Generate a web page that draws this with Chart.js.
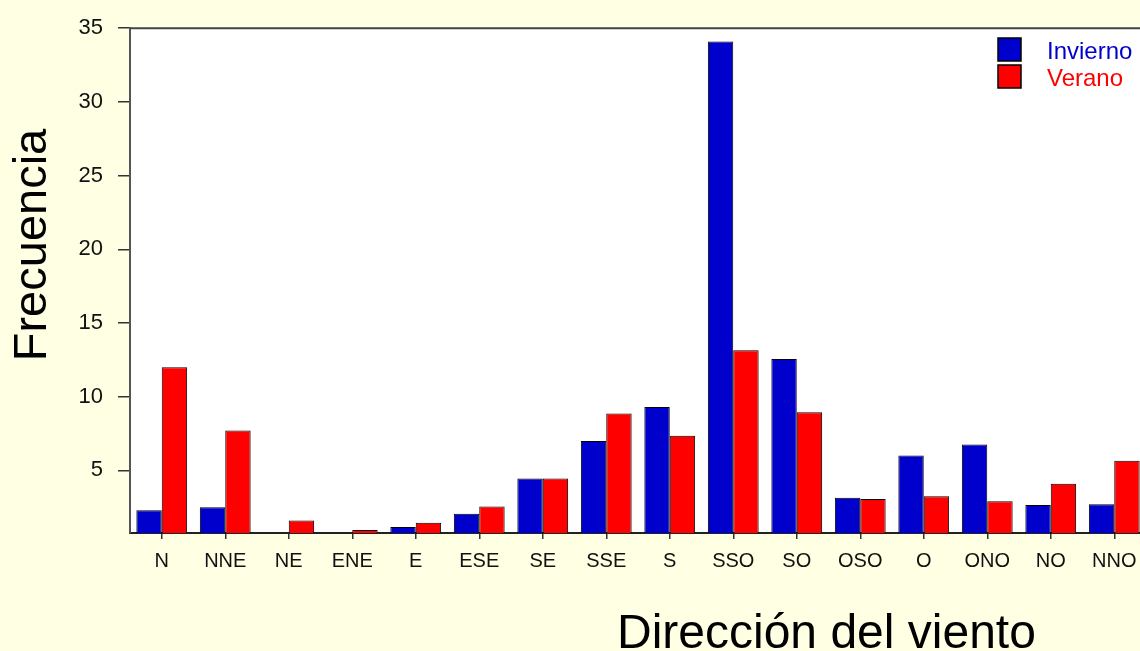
<!DOCTYPE html>
<html>
<head>
<meta charset="utf-8">
<script src="https://cdn.jsdelivr.net/npm/chart.js@4/dist/chart.umd.min.js"></script>
<style>
    html, body { margin: 0; padding: 0; background: #FFFFE3; overflow: hidden; }
    #wrap { width: 1150px; height: 651px; }
    canvas { display: block; }
</style>
</head>
<body>
<div id="wrap"><canvas id="windChart" width="1150" height="651"></canvas></div>
<script>
// Data
const directions = ['N', 'NNE', 'NE', 'ENE', 'E', 'ESE', 'SE', 'SSE', 'S', 'SSO', 'SO', 'OSO', 'O', 'ONO', 'NO', 'NNO'];
const invierno = [2.3, 2.5, 0.75, 0.75, 1.15, 2.05, 4.45, 7.0, 9.3, 34.1, 12.55, 3.15, 6.0, 6.75, 2.65, 2.7];
const verano = [12.0, 7.7, 1.6, 0.95, 1.45, 2.55, 4.45, 8.85, 7.35, 13.15, 8.95, 3.05, 3.25, 2.9, 4.1, 5.65];
const yTicks = [5, 10, 15, 20, 25, 30, 35];

const Y_MIN = 0.75;
const Y_MAX = 35;
const FONT = '"Liberation Sans", Arial, sans-serif';

// White plot area, top frame line, axis titles and legend
const decorPlugin = {
    id: 'decor',
    beforeDraw(chart) {
        const ctx = chart.ctx;
        const a = chart.chartArea;
        ctx.save();
        ctx.fillStyle = '#FFFFFF';
        ctx.fillRect(a.left, a.top, a.right - a.left, a.bottom - a.top);
        ctx.restore();
    },
    afterDraw(chart) {
        const ctx = chart.ctx;
        const a = chart.chartArea;
        ctx.save();

        // top frame
        ctx.strokeStyle = '#444444';
        ctx.lineWidth = 2;
        ctx.beginPath();
        ctx.moveTo(a.left, a.top);
        ctx.lineTo(a.right, a.top);
        ctx.stroke();

        // y title
        ctx.fillStyle = '#000000';
        ctx.font = '47px ' + FONT;
        ctx.textAlign = 'center';
        ctx.textBaseline = 'alphabetic';
        ctx.save();
        ctx.translate(46, 245);
        ctx.rotate(-Math.PI / 2);
        ctx.fillText('Frecuencia', 0, 0);
        ctx.restore();

        // x title
        ctx.font = '48px ' + FONT;
        ctx.textAlign = 'left';
        ctx.fillText('Dirección del viento', 617, 648);

        // legend
        ctx.font = '24px ' + FONT;
        ctx.textAlign = 'left';
        chart.data.datasets.forEach((ds, i) => {
            const y = 38 + i * 27;
            ctx.fillStyle = ds.backgroundColor;
            ctx.fillRect(998, y, 23, 23);
            ctx.strokeStyle = '#000000';
            ctx.lineWidth = 1.5;
            ctx.strokeRect(998, y, 23, 23);
            ctx.fillStyle = ds.backgroundColor;
            ctx.fillText(ds.label, 1047, y + 21);
        });
        ctx.restore();
    }
};

const ctx = document.getElementById('windChart').getContext('2d');
new Chart(ctx, {
    type: 'bar',
    data: {
        labels: directions,
        datasets: [
            {
                label: 'Invierno',
                data: invierno,
                base: Y_MIN,
                backgroundColor: '#0000CC',
                borderColor: '#000000',
                borderWidth: 1
            },
            {
                label: 'Verano',
                data: verano,
                base: Y_MIN,
                backgroundColor: '#FF0000',
                borderColor: '#000000',
                borderWidth: 1
            }
        ]
    },
    options: {
        responsive: false,
        animation: false,
        devicePixelRatio: 1,
        layout: { padding: { top: 26, left: 0, right: 4, bottom: 0 } },
        datasets: { bar: { categoryPercentage: 0.8, barPercentage: 1.0 } },
        plugins: {
            legend: { display: false },
            tooltip: { enabled: false }
        },
        scales: {
            x: {
                offset: true,
                grid: {
                    display: true,
                    drawOnChartArea: false,
                    offset: false,
                    tickLength: 6,
                    color: '#333333',
                    lineWidth: 1.5
                },
                border: { color: '#222222', width: 2 },
                ticks: {
                    color: '#111111',
                    padding: 10,
                    maxRotation: 0,
                    autoSkip: false,
                    font: { family: FONT, size: 20 }
                },
                afterFit(scale) { scale.height = 118; }
            },
            y: {
                min: Y_MIN,
                max: Y_MAX,
                afterBuildTicks(scale) {
                    scale.ticks = yTicks.map(v => ({ value: v }));
                },
                grid: {
                    display: true,
                    drawOnChartArea: false,
                    tickLength: 12,
                    color: '#333333',
                    lineWidth: 1.5
                },
                border: { color: '#555555', width: 2 },
                ticks: {
                    color: '#111111',
                    padding: 15,
                    font: { family: FONT, size: 22 }
                },
                afterFit(scale) { scale.width = 130; }
            }
        }
    },
    plugins: [decorPlugin]
});
</script>
</body>
</html>
